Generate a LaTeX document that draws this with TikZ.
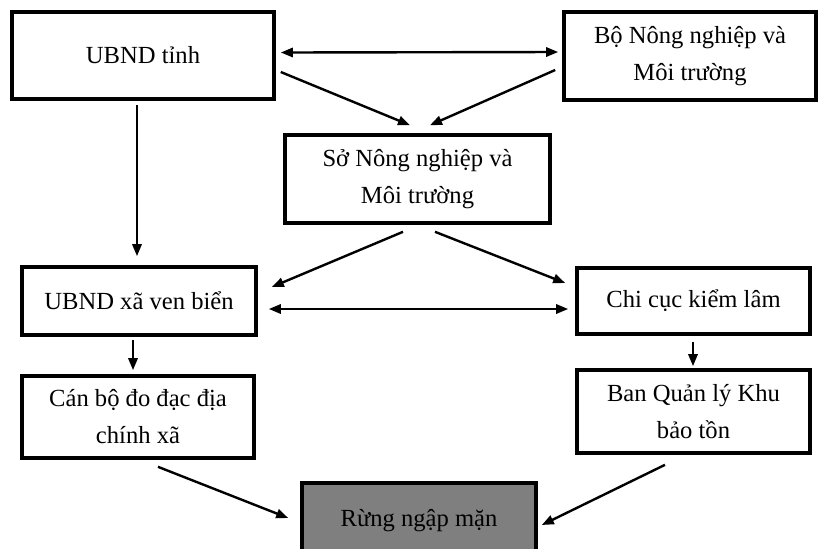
\documentclass[tikz,border=0pt]{standalone}
\usepackage{fontspec}
\setmainfont{Liberation Serif}
\usetikzlibrary{arrows.meta}
\definecolor{rungfill}{HTML}{7F7F7F}
\begin{document}
\begin{tikzpicture}[x=0.5pt,y=-0.5pt,
  box/.style={draw=black,line width=1.8pt,fill=white,align=center,
    font=\fontsize{12.3}{18.5}\selectfont,inner sep=0pt},
  arr/.style={line width=1.2pt,-{Triangle[length=6pt,width=4.6pt]}},
  biarr/.style={line width=1.2pt,{Triangle[length=6pt,width=4.6pt]}-{Triangle[length=6pt,width=4.6pt]}}]
\useasboundingbox (0,0) rectangle (819,548);
\node[box,minimum width=131pt,minimum height=43.5pt] (tinh) at (143,55.5) {UBND tỉnh};
\node[box,minimum width=126pt,minimum height=44pt] (bo) at (690,56) {Bộ Nông nghiệp và\\Môi trường};
\node[box,minimum width=132.5pt,minimum height=44pt] (so) at (417.5,179) {Sở Nông nghiệp và\\Môi trường};
\node[box,minimum width=117pt,minimum height=34pt] (xa) at (139,301) {UBND xã ven biển};
\node[box,minimum width=116.5pt,minimum height=33pt] (chi) at (693.5,301) {Chi cục kiểm lâm};
\node[box,minimum width=116pt,minimum height=41pt] (canbo) at (138,417) {Cán bộ đo đạc địa\\chính xã};
\node[box,minimum width=116.5pt,minimum height=41.5pt] (ban) at (693.5,411.5) {Ban Quản lý Khu\\bảo tồn};
\node[box,fill=rungfill,minimum width=117pt,minimum height=38pt] (rung) at (419,521) {Rừng ngập mặn};
\draw[biarr] ([shift={(5,-3)}]tinh.east) -- ([shift={(-4,-4)}]bo.west);
\draw[arr] ([shift={(5,16.5)}]tinh.east) -- ([shift={(-7.5,-8)}]so.north);
\draw[arr] ([shift={(-7,14)}]bo.west) -- ([shift={(12.5,-8)}]so.north);
\draw[arr] ([shift={(-6,4)}]tinh.south) -- ([shift={(-2,-9)}]xa.north);
\draw[arr] ([shift={(-14.5,7)}]so.south) -- ([shift={(14,-14)}]xa.east);
\draw[arr] ([shift={(17.5,7)}]so.south) -- ([shift={(-10,-18)}]chi.west);
\draw[biarr] ([shift={(11,8)}]xa.east) -- ([shift={(-7,8)}]chi.west);
\draw[arr] ([shift={(-6,3)}]xa.south) -- ([shift={(-5,-4)}]canbo.north);
\draw[arr] ([shift={(-0.5,6)}]chi.south) -- ([shift={(-0.5,-2)}]ban.north);
\draw[arr] ([shift={(20,7)}]canbo.south) -- ([shift={(-12,-3)}]rung.west);
\draw[arr] ([shift={(-28.5,10)}]ban.south) -- ([shift={(4,4)}]rung.east);
\end{tikzpicture}
\end{document}
